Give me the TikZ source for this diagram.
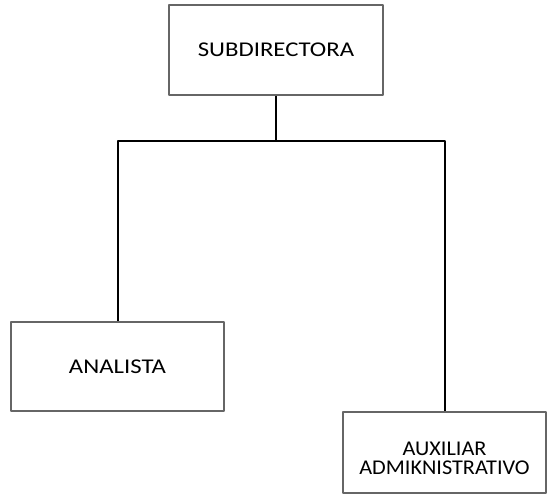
\documentclass[tikz,border=0pt]{standalone}
\usepackage{fontspec}
\setmainfont{Carlito}
\newfontfamily\widefont[FakeStretch=1.18]{Carlito}
\newfontfamily\auxfont[FakeStretch=1.06]{Carlito}
\begin{document}
\begin{tikzpicture}[x=1pt,y=1pt,line join=round,font=\fontsize{21}{19}\widefont,
	cargo/.style={draw=black!60,line width=1.5pt,fill=white,align=center,inner sep=0pt},
	linea/.style={black,line width=2pt}]
	\useasboundingbox (0,0) rectangle (548,503);
	\node[cargo,minimum width=214,minimum height=90] (sub) at (276,453) {SUBDIRECTORA};
	\node[cargo,minimum width=213,minimum height=89] (ana) at (117.5,136.5) {ANALISTA};
	\node[cargo,minimum width=203,minimum height=81,text height=44pt,text depth=0pt,font=\fontsize{21}{19}\auxfont] (aux) at (444.5,50.5) {AUXILIAR\\ADMIKNISTRATIVO};
	\draw[linea] (sub.south) -- ++(0,-45) coordinate (rama);
	\draw[linea] (rama) -| (ana.north);
	\draw[linea] (rama) -| (aux.north);
\end{tikzpicture}
\end{document}
